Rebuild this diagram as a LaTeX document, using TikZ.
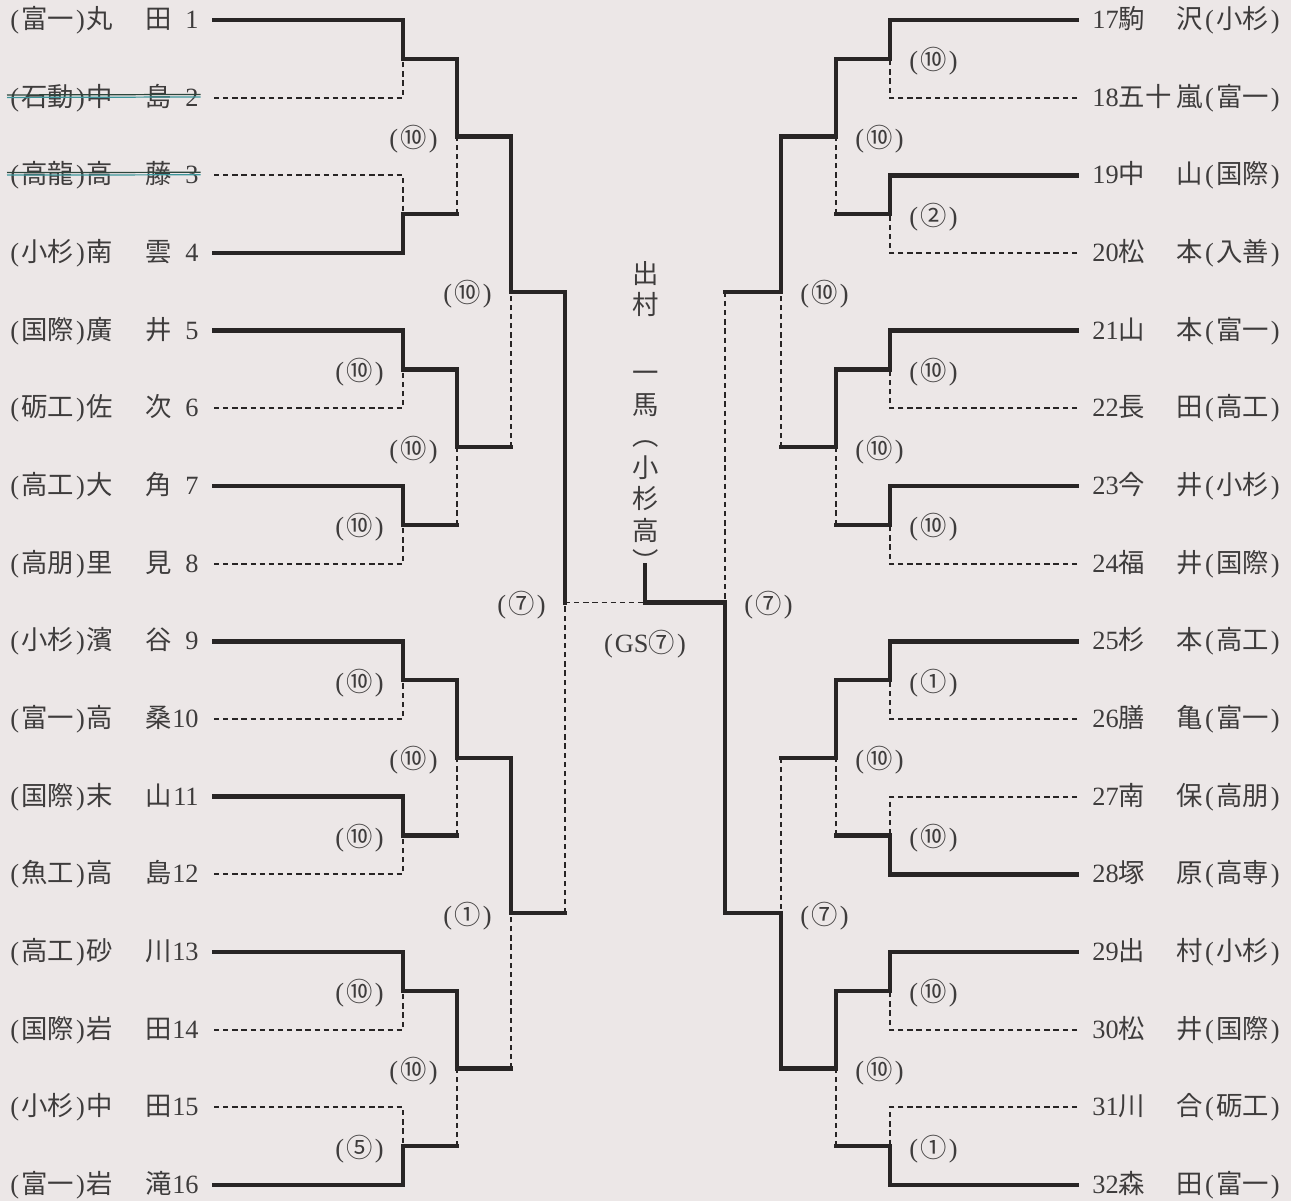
\documentclass[tikz,border=0pt]{standalone}
\usepackage{fontspec}
\setmainfont{Liberation Serif}
\newfontfamily\jp{Noto Sans CJK JP}
\usetikzlibrary{positioning}
\definecolor{paper}{RGB}{236,231,231}
\definecolor{ink}{RGB}{40,37,37}
\definecolor{txt}{RGB}{62,60,60}
\definecolor{strikeA}{RGB}{45,70,60}
\definecolor{strikeB}{RGB}{60,150,155}
\newcommand{\bfz}{\fontsize{15}{18}\selectfont}
\newcommand{\lp}{\kern1.2pt(\kern1.2pt}
\newcommand{\rp}{\kern1.2pt)\kern1.2pt}
\newcommand{\pscore}[1]{\lp{\jp #1}\rp}

\begin{document}
\begin{tikzpicture}[
  x=0.02cm,y=-0.02cm,
  font=\bfz,text=txt,
  %--- line styles ---
  win/.style   ={draw=ink,line width=2.5pt,line cap=rect},
  lose/.style  ={draw=ink,line width=1pt,dash pattern=on 3pt off 2.2pt},
  strike/.style={line width=0.7pt},
  %--- text styles ---
  lname/.style ={anchor=mid west,inner sep=0pt,yshift=-0.9mm},
  gname/.style ={anchor=mid,inner sep=0pt,font=\jp\bfz,yshift=-0.9mm},
  lnum/.style  ={anchor=mid east,inner sep=0pt,yshift=-0.9mm},
  rnum/.style  ={anchor=mid west,inner sep=0pt,yshift=-0.9mm},
  rname/.style ={anchor=mid east,inner sep=0pt,yshift=-0.9mm},
  score/.style ={inner sep=0pt,yshift=-0.5mm},
  champ/.style ={inner sep=0pt,align=center,
                 font=\jp\fontsize{15}{17.9}\selectfont},
]
\fill[paper] (0,0) rectangle (1291,1201);
\useasboundingbox (0,0) rectangle (1291,1201);

%==================== entries, left ====================
\foreach \n/\s/\a/\b in {1/富一/丸/田, 2/石動/中/島, 3/高龍/高/藤, 4/小杉/南/雲,
    5/国際/廣/井, 6/砺工/佐/次, 7/高工/大/角, 8/高朋/里/見,
    9/小杉/濱/谷, 10/富一/高/桑, 11/国際/末/山, 12/魚工/高/島,
    13/高工/砂/川, 14/国際/岩/田, 15/小杉/中/田, 16/富一/岩/滝}{
  \pgfmathsetmacro\yy{20+(\n-1)*77.667}
  \node[lname] (ls\n) at (10,\yy) {(\kern1.2pt\jp\s\rmfamily\kern1.2pt)\kern1.2pt\jp\a};
  \node[gname] (lg\n) at (159,\yy) {\b};
  \node[lnum]  (ln\n) at (199,\yy) {\n};
  \coordinate (la\n) at (214,\yy);
}

%==================== entries, right ====================
\foreach \n/\a/\b/\s in {17/駒/沢/小杉, 18/五十/嵐/富一, 19/中/山/国際, 20/松/本/入善,
    21/山/本/富一, 22/長/田/高工, 23/今/井/小杉, 24/福/井/国際,
    25/杉/本/高工, 26/膳/亀/富一, 27/南/保/高朋, 28/塚/原/高専,
    29/出/村/小杉, 30/松/井/国際, 31/川/合/砺工, 32/森/田/富一}{
  \pgfmathsetmacro\yy{20+(\n-17)*77.667}
  \node[rnum]  (rn\n) at (1092,\yy) {\n{\jp\a}};
  \node[rname] (rs\n) at (1280,\yy) {{\jp\b}\kern1.2pt(\kern1.2pt{\jp\s}\kern1.2pt)};
  \coordinate (ra\n) at (1077,\yy);
}

% withdrawn entries
\foreach \n in {2,3}{
  \draw[strike,strikeA] ([xshift=-0.6mm,yshift=0.6mm]ls\n.west) -- ([xshift=0.3mm,yshift=0.6mm]ln\n.east);
  \draw[strike,strikeB] ([xshift=-0.6mm,yshift=0.1mm]ls\n.west) -- ([xshift=0.3mm,yshift=0.1mm]ln\n.east);
}

%==================== match points ====================
\foreach \k in {1,...,8}{
  \pgfmathsetmacro\yy{20+(2*\k-1.5)*77.667}
  \coordinate (l1m\k) at (403,\yy);
  \coordinate (r1m\k) at (890,\yy);
}
\foreach \k in {1,...,4}{
  \pgfmathsetmacro\yy{20+(4*\k-2.5)*77.667}
  \coordinate (l2m\k) at (457,\yy);
  \coordinate (r2m\k) at (836,\yy);
}
\foreach \k in {1,2}{
  \pgfmathsetmacro\yy{20+(8*\k-4.5)*77.667}
  \coordinate (l3m\k) at (511,\yy);
  \coordinate (r3m\k) at (781,\yy);
}
\coordinate (l4m)  at (565,602.5);
\coordinate (r4m)  at (725,602.5);
\coordinate (fin)  at (645,602.5);

%==================== round 1 ====================
\foreach \w/\l/\k in {1/2/1,4/3/2,5/6/3,7/8/4,9/10/5,11/12/6,13/14/7,16/15/8}{
  \draw[win]  (la\w) -| (l1m\k);
  \draw[lose] (la\l) -| (l1m\k);
}
\foreach \w/\l/\k in {17/18/1,19/20/2,21/22/3,23/24/4,25/26/5,28/27/6,29/30/7,32/31/8}{
  \draw[win]  (ra\w) -| (r1m\k);
  \draw[lose] (ra\l) -| (r1m\k);
}

%==================== round 2 ====================
\foreach \k/\w/\l in {1/1/2,2/3/4,3/5/6,4/7/8}{
  \draw[win]  (l1m\w) -| (l2m\k);
  \draw[win]  (l1m\l) -- (l1m\l -| l2m\k);
  \draw[lose] (l1m\l -| l2m\k) -- (l2m\k);
  \draw[win]  (r1m\w) -| (r2m\k);
  \draw[win]  (r1m\l) -- (r1m\l -| r2m\k);
  \draw[lose] (r1m\l -| r2m\k) -- (r2m\k);
}

%==================== round 3 ====================
\foreach \k/\w/\l in {1/1/2,2/3/4}{
  \draw[win]  (l2m\w) -| (l3m\k);
  \draw[win]  (l2m\l) -- (l2m\l -| l3m\k);
  \draw[lose] (l2m\l -| l3m\k) -- (l3m\k);
}
\foreach \k/\w/\l in {1/1/2,2/4/3}{
  \draw[win]  (r2m\w) -| (r3m\k);
  \draw[win]  (r2m\l) -- (r2m\l -| r3m\k);
  \draw[lose] (r2m\l -| r3m\k) -- (r3m\k);
}

%==================== champion ====================
\node[champ,anchor=south] (champ) at (646,572)
  {出\\村\\[21pt]一\\馬\\︵\\小\\杉\\高\\︶};
\coordinate (ftop) at (fin |- champ.south);

%==================== semifinals and final ====================
\draw[win]  (l3m1) -| (l4m);
\draw[win]  (l3m2) -- (l3m2 -| l4m);
\draw[lose] (l3m2 -| l4m) -- (l4m);
\draw[win]  (r3m2) -| (r4m);
\draw[win]  (r3m1) -- (r3m1 -| r4m);
\draw[lose] (r3m1 -| r4m) -- (r4m);
\draw[lose] (l4m) -- (fin);
\draw[win]  (r4m) -- (fin) -- ([yshift=1.4mm]ftop);

%==================== scores ====================
\foreach \m/\v in {l2m1/⑩,l3m1/⑩,l1m3/⑩,l2m2/⑩,l1m4/⑩,l4m/⑦,l1m5/⑩,
    l2m3/⑩,l1m6/⑩,l3m2/①,l1m7/⑩,l2m4/⑩,l1m8/⑤}
  \node[score,left=3.4mm of \m] (s\m) {\pscore{\v}};
\foreach \m/\v in {r1m1/⑩,r2m1/⑩,r1m2/②,r3m1/⑩,r1m3/⑩,r2m2/⑩,r1m4/⑩,r4m/⑦,
    r1m5/①,r2m3/⑩,r1m6/⑩,r3m2/⑦,r1m7/⑩,r2m4/⑩,r1m8/①}
  \node[score,right=3.4mm of \m] (s\m) {\pscore{\v}};
\node[score,below=5mm of fin] (sfin) {\lp GS{\jp ⑦}\rp};

\end{tikzpicture}
\end{document}
